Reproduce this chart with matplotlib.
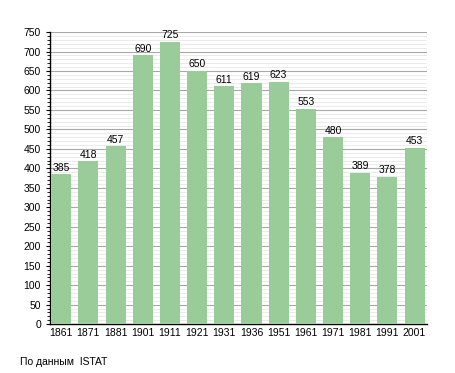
import matplotlib.pyplot as plt
from matplotlib.ticker import MultipleLocator

years = ["1861", "1871", "1881", "1901", "1911", "1921", "1931",
         "1936", "1951", "1961", "1971", "1981", "1991", "2001"]
population = [385, 418, 457, 690, 725, 650, 611, 619, 623, 553, 480, 389, 378, 453]

plt.rcParams['font.family'] = ['Liberation Sans', 'DejaVu Sans']

fig = plt.figure(figsize=(4.55, 3.73), dpi=100)
ax = fig.add_axes([0.11, 0.131, 0.828, 0.783])

x = range(len(years))
bars = ax.bar(x, population, width=0.74, color="#9acc99", zorder=3)

# value labels above bars
for xi, v in zip(x, population):
    ax.text(xi, v + 4, str(v), ha="center", va="bottom", fontsize=7.5, zorder=4)

ax.set_xlim(-0.41, 13.45)
ax.set_ylim(0, 750)
ax.set_xticks(list(x))
ax.set_xticklabels(years, fontsize=7.5)
ax.yaxis.set_major_locator(MultipleLocator(50))
ax.yaxis.set_minor_locator(MultipleLocator(10))
ax.tick_params(axis="y", labelsize=7.5, length=3, width=0.8)
ax.tick_params(axis="y", which="minor", length=2, width=0.6)
ax.tick_params(axis="x", length=0, pad=3)

ax.grid(axis="y", which="major", color="#a8a8a8", linewidth=0.8, zorder=1)
ax.grid(axis="y", which="minor", color="#ebebeb", linewidth=0.7, zorder=1)

for side in ["top", "right"]:
    ax.spines[side].set_visible(False)
ax.spines["left"].set_linewidth(1.0)
ax.spines["bottom"].set_linewidth(1.0)

fig.text(20 / 455, 1 - 362 / 373, "По данным  ISTAT", fontsize=7.5, va="center")

fig.savefig("out.png", dpi=100)
